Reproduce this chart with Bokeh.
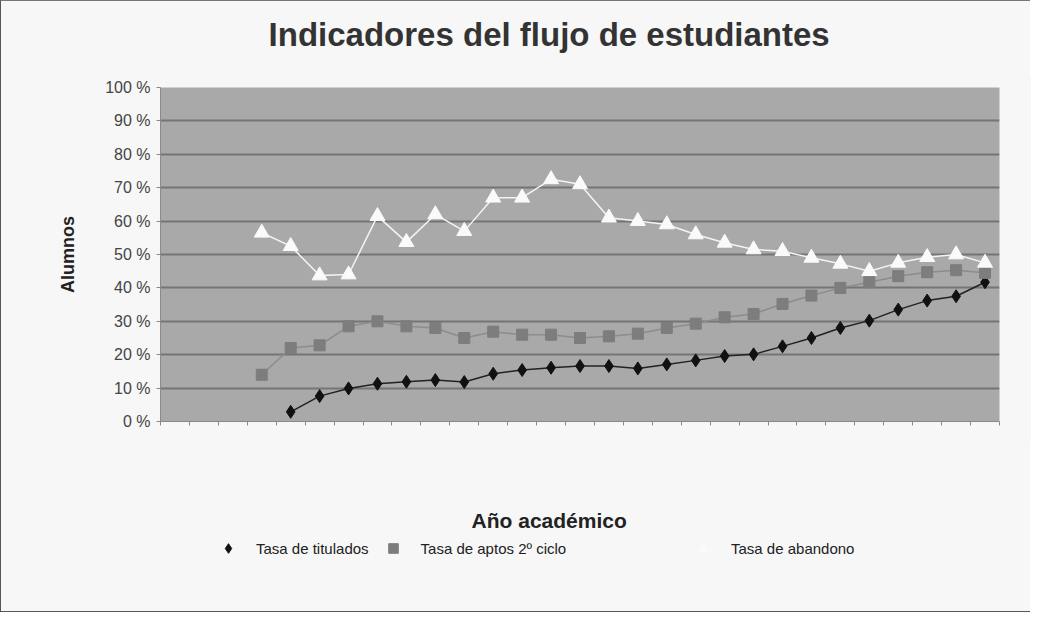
from bokeh.plotting import figure
from bokeh.layouts import column
from bokeh.models import (Legend, LegendItem, Label, FixedTicker, NumeralTickFormatter,
                          Range1d)
from bokeh.embed import file_html
from bokeh.resources import INLINE

nan = float("nan")

# 29 academic-year slots (labels not shown in the original)
cursos = list(range(1, 30))

tasa_titulados = [nan, nan, nan, nan, 2.9, 7.6, 9.9, 11.3, 11.9, 12.4, 11.8, 14.3, 15.4, 16.1,
                  16.6, 16.6, 15.9, 17.1, 18.3, 19.6, 20.1, 22.5, 25.0, 28.0, 30.2, 33.5,
                  36.2, 37.5, 41.7]
tasa_aptos = [nan, nan, nan, 14.0, 22.0, 22.8, 28.5, 30.0, 28.5, 28.0, 25.0, 26.9, 26.0, 26.0,
              25.0, 25.5, 26.3, 28.0, 29.3, 31.2, 32.2, 35.2, 37.7, 40.0, 41.7, 43.5,
              44.7, 45.3, 44.5]
tasa_abandono = [nan, nan, nan, 56.5, 52.5, 43.7, 44.0, 61.5, 53.7, 62.0, 57.0, 67.0, 67.0, 72.5,
                 71.0, 61.0, 60.0, 59.0, 56.0, 53.5, 51.5, 51.0, 49.0, 47.2, 45.0, 47.5,
                 49.2, 50.0, 47.5]

series_labels = ["Tasa de titulados", "Tasa de aptos 2º ciclo", "Tasa de abandono"]
y_ticks = [0, 10, 20, 30, 40, 50, 60, 70, 80, 90, 100]

FONT = "Liberation Sans"
PAGE_BG = "#f7f7f7"

STY = [dict(marker="diamond", size=13, fill_color="#111111", line_color="#111111"),
       dict(marker="square", size=11, fill_color="#7d7d7d", line_color="#7d7d7d"),
       dict(marker="triangle", size=15, fill_color="#fafafa", line_color="#fafafa")]
LINE_COL = ["#222222", "#8c8c8c", "#f4f4f4"]

def frac(vals):
    return [v / 100.0 for v in vals]

def strip(height, styles):
    f = figure(width=1030, height=height, output_backend="svg", toolbar_location=None,
               x_range=Range1d(0.5, len(cursos) + 0.5), y_range=Range1d(0, 1),
               min_border_left=159, min_border_right=33, min_border_top=0, min_border_bottom=0)
    f.axis.visible = False
    f.grid.visible = False
    f.outline_line_color = None
    f.background_fill_color = PAGE_BG
    f.border_fill_color = PAGE_BG
    f.styles = dict(styles, **{"background-color": PAGE_BG})
    return f

# ---- title strip
top = strip(77, {"border-left": "1.5px solid #555555", "border-top": "1.5px solid #777777"})
top.add_layout(Label(x=13.95, y=0.57, text="Indicadores del flujo de estudiantes",
                     text_font=FONT, text_font_size="33px", text_font_style="bold",
                     text_color="#333333", text_align="center", text_baseline="middle"))

# ---- main plot
p = figure(width=1030, height=364, output_backend="svg", toolbar_location=None,
           x_range=Range1d(0.5, len(cursos) + 0.5), y_range=Range1d(0, 1),
           frame_width=838, frame_height=334,
           min_border_left=159, min_border_right=33, min_border_top=10, min_border_bottom=20)

p.background_fill_color = "#a9a9a9"
p.border_fill_color = PAGE_BG
p.outline_line_color = None
p.styles = {"border-left": "1.5px solid #555555", "background-color": PAGE_BG}

p.xgrid.visible = False
p.ygrid.ticker = FixedTicker(ticks=[t / 100 for t in y_ticks])
p.ygrid.grid_line_color = "#757575"
p.ygrid.grid_line_width = 2

p.yaxis.ticker = FixedTicker(ticks=[t / 100 for t in y_ticks])
p.yaxis.formatter = NumeralTickFormatter(format="0 %")
p.yaxis.major_label_text_font = FONT
p.yaxis.major_label_text_font_size = "16px"
p.yaxis.major_label_text_color = "#444444"
p.yaxis.major_tick_out = 4
p.yaxis.major_tick_in = 0
p.yaxis.minor_tick_line_color = None
p.yaxis.axis_line_color = "#8a8a8a"
p.yaxis.major_tick_line_color = "#8a8a8a"
p.yaxis.major_label_standoff = 6
p.yaxis.axis_label = "Alumnos"
p.yaxis.axis_label_text_font = FONT
p.yaxis.axis_label_text_font_style = "bold"
p.yaxis.axis_label_text_font_size = "18px"
p.yaxis.axis_label_text_color = "#222222"
p.yaxis.axis_label_standoff = 24

p.xaxis.ticker = FixedTicker(ticks=[c + 0.5 for c in [0] + cursos])
p.xaxis.major_label_text_font_size = "0px"
p.xaxis.major_label_standoff = 0
p.xaxis.major_tick_out = 4
p.xaxis.major_tick_in = 0
p.xaxis.minor_tick_line_color = None
p.xaxis.axis_line_color = "#8a8a8a"
p.xaxis.major_tick_line_color = "#8a8a8a"

for vals, col, sty in zip([tasa_titulados, tasa_aptos, tasa_abandono], LINE_COL, STY):
    p.line(cursos, frac(vals), line_color=col, line_width=1.5)
    p.scatter(cursos, frac(vals), **sty)

# ---- x title + legend strip
bot = strip(171, {"border-left": "1.5px solid #555555", "border-bottom": "1.5px solid #555555"})
bot.add_layout(Label(x=13.95, y=0.54, text="Año académico",
                     text_font=FONT, text_font_size="21px", text_font_style="bold",
                     text_color="#222222", text_align="center", text_baseline="middle"))

# legend proxies (not drawn: no finite coordinates)
rs = [bot.scatter([nan], [nan], **sty) for sty in STY]

common = dict(orientation="horizontal", background_fill_alpha=0, border_line_color=None,
              label_text_font=FONT, label_text_font_size="15px", label_text_color="#222222",
              glyph_width=24, glyph_height=24, label_standoff=16, spacing=12,
              padding=4, margin=0)
leg_a = Legend(items=[LegendItem(label=series_labels[0], renderers=[rs[0]]),
                      LegendItem(label=series_labels[1], renderers=[rs[1]])],
               location=(56, 52), **common)
leg_b = Legend(items=[LegendItem(label=series_labels[2], renderers=[rs[2]])],
               location=(531, 52), **common)
bot.add_layout(leg_a)
bot.add_layout(leg_b)

layout = column(top, p, bot, spacing=0)
open("out.html", "w").write(file_html(layout, INLINE))
